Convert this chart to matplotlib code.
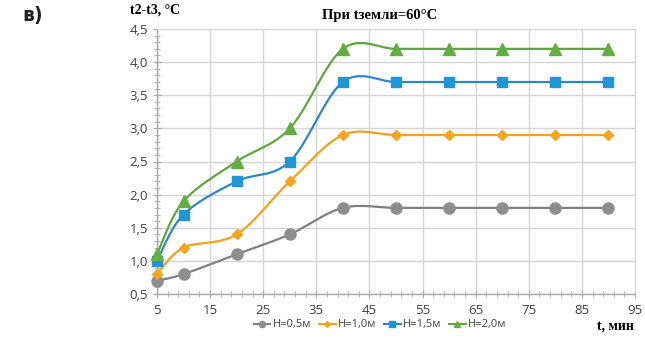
import numpy as np
import matplotlib
matplotlib.use("Agg")
import matplotlib.pyplot as plt
from matplotlib.ticker import MultipleLocator, FuncFormatter, FixedLocator

t_min = [5, 10, 20, 30, 40, 50, 60, 70, 80, 90]
h05 = [0.7, 0.8, 1.1, 1.4, 1.8, 1.8, 1.8, 1.8, 1.8, 1.8]
h10 = [0.8, 1.2, 1.4, 2.2, 2.9, 2.9, 2.9, 2.9, 2.9, 2.9]
h15 = [1.0, 1.7, 2.2, 2.5, 3.7, 3.7, 3.7, 3.7, 3.7, 3.7]
h20 = [1.1, 1.9, 2.5, 3.0, 4.2, 4.2, 4.2, 4.2, 4.2, 4.2]
labels = ["H=0,5м", "H=1,0м", "H=1,5м", "H=2,0м"]
series = [h05, h10, h15, h20]
x_ticks = [5, 15, 25, 35, 45, 55, 65, 75, 85, 95]

line_colors = ["#808080", "#F5A11C", "#2C86CF", "#5FA63C"]
marker_colors = ["#8E8E8E", "#F7A51E", "#2196D6", "#62AE40"]
markers = ["o", "D", "s", "^"]
msizes = [8, 5.5, 7.5, 8]


def smooth(x, y, n=30):
    x = np.asarray(x, float)
    y = np.asarray(y, float)
    xs, ys = [], []
    for i in range(len(x) - 1):
        p0 = np.array([x[max(i - 1, 0)], y[max(i - 1, 0)]])
        p1 = np.array([x[i], y[i]])
        p2 = np.array([x[i + 1], y[i + 1]])
        p3 = np.array([x[min(i + 2, len(x) - 1)], y[min(i + 2, len(x) - 1)]])
        c1 = p1 + (p2 - p0) / 6.0
        c2 = p2 - (p3 - p1) / 6.0
        tt = np.linspace(0, 1, n)[:, None]
        pts = ((1 - tt) ** 3) * p1 + 3 * ((1 - tt) ** 2) * tt * c1 + 3 * (1 - tt) * tt ** 2 * c2 + tt ** 3 * p2
        xs.extend(pts[:, 0])
        ys.extend(pts[:, 1])
    return np.array(xs), np.array(ys)


fig = plt.figure(figsize=(6.45, 3.38), dpi=100)
ax = fig.add_axes([157 / 645, 1 - 294 / 338, (635 - 157) / 645, (294 - 29) / 338])

handles = []
for y, lab, lc, mc, mk, ms in zip(series, labels, line_colors, marker_colors, markers, msizes):
    sx, sy = smooth(t_min, y)
    ax.plot(sx, sy, color=lc, lw=1.6, zorder=3, clip_on=False)
    ax.plot(t_min, y, ls="none", marker=mk, color=mc, ms=ms, zorder=4, clip_on=False)
    h, = ax.plot([], [], color=lc, lw=1.5, marker=mk, markerfacecolor=mc,
                 markeredgecolor=mc, ms=ms * 0.55, label=lab)
    handles.append(h)

ax.set_xlim(5, 95)
ax.set_ylim(0.5, 4.5)
ax.xaxis.set_major_locator(FixedLocator(x_ticks))
ax.xaxis.set_minor_locator(FixedLocator(np.arange(5, 95.1, 2)))
ax.yaxis.set_major_locator(MultipleLocator(0.5))
ax.yaxis.set_minor_locator(MultipleLocator(0.1))
ax.yaxis.set_major_formatter(FuncFormatter(lambda v, p: f"{v:.1f}".replace(".", ",")))
ax.xaxis.set_major_formatter(FuncFormatter(lambda v, p: f"{v:.0f}"))
ax.grid(True, which="major", color="#D6D6D6", lw=1.0, zorder=0)
for s in ["top", "right"]:
    ax.spines[s].set_color("#D6D6D6")
for s in ["left", "bottom"]:
    ax.spines[s].set_color("#A8A8A8")
    ax.spines[s].set_linewidth(1.0)
ax.tick_params(which="both", direction="inout", color="#A8A8A8", labelsize=9.5,
               labelcolor="#404040")
ax.tick_params(which="major", length=6)
ax.tick_params(which="minor", length=4)
ax.tick_params(axis="x", pad=4)
for lbl in ax.get_xticklabels() + ax.get_yticklabels():
    lbl.set_family("Open Sans")

fig.text(380 / 645, 1 - 16 / 338, "При tземли=60°C", ha="center", va="center",
         fontsize=10.5, fontweight="bold", family="Liberation Serif")
fig.text(130 / 645, 1 - 10 / 338, "t2-t3, °C", ha="left", va="center",
         fontsize=10, fontweight="bold", family="Liberation Serif")
fig.text(22 / 645, 1 - 16 / 338, "в)", ha="left", va="center",
         fontsize=13.5, fontweight="bold", family="DejaVu Sans", color="#222222")
fig.text(634 / 645, 1 - 326 / 338, "t, мин", ha="right", va="center",
         fontsize=10, fontweight="bold", family="Liberation Serif")

leg = fig.legend(handles=handles, loc="center", bbox_to_anchor=(380 / 645, 1 - 325 / 338),
                 ncol=4, frameon=False, handlelength=1.5, handletextpad=0.2,
                 columnspacing=0.7, borderaxespad=0, prop={"family": "Open Sans", "size": 8})
for txt in leg.get_texts():
    txt.set_color("#404040")

fig.savefig("out.png", dpi=100)
